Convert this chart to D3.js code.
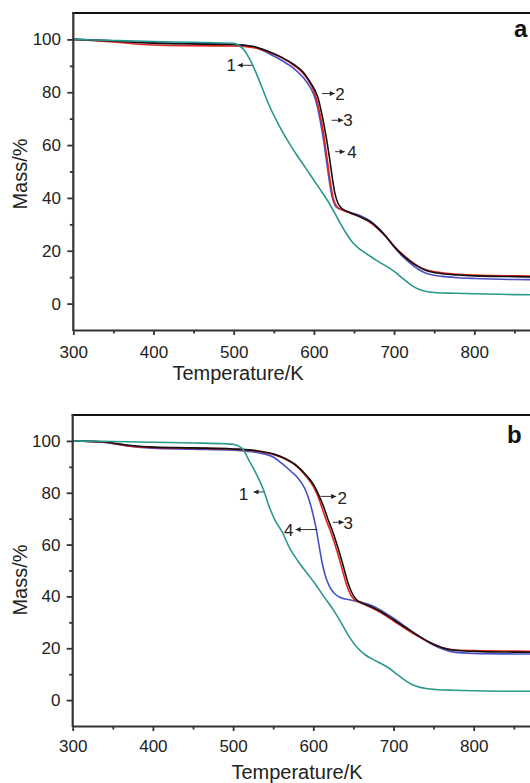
<!DOCTYPE html>
<html>
<head>
<meta charset="utf-8">
<script src="https://cdn.jsdelivr.net/npm/d3@7"></script>
<style>
  html, body { margin: 0; padding: 0; background: #fff; }
  svg { display: block; font-family: "Liberation Sans", Arial, sans-serif; }
</style>
</head>
<body>
<svg id="chart" width="530" height="783"></svg>
<script>
// ---------- data (Temperature/K, Mass/%) ----------
const xTicks = [300, 400, 500, 600, 700, 800];
const xMinorTicks = [350, 450, 550, 650, 750, 850];
const yTicks = [0, 20, 40, 60, 80, 100];
const yMinorTicks = [10, 30, 50, 70, 90];

// panel a
const a1 = [[300,100],[350,99.6],[400,99.2],[450,98.9],[500,98.5],[506,97.8],[513,96],[520,92.5],[527,88],[535,82],[545,74.5],[555,68.3],[565,62.8],[577,57],[590,51.2],[600,46.7],[610,42.2],[620,37.5],[630,32],[640,26.7],[648,23.2],[656,20.9],[666,18.8],[680,16],[690,14.2],[700,12.2],[710,9.7],[720,7.3],[730,5.5],[740,4.6],[750,4.2],[775,3.9],[800,3.7],[850,3.4],[900,3.3]];
const a2 = [[300,100],[350,99.4],[400,98.6],[450,98.3],[500,98.1],[525,97.3],[545,95.2],[560,93.2],[575,90.5],[587,87.5],[595,84],[600,81.5],[605,78],[609,73],[613,67],[617,60],[620,54],[623,47.5],[626,42],[630,38],[635,36],[645,34.5],[660,32.5],[670,31],[680,28.5],[690,25.3],[700,21.5],[710,18.5],[720,16],[730,14],[740,12.5],[760,11.3],[780,10.8],[800,10.5],[850,10.2],[900,10]];
const a3 = [[300,100],[350,99],[400,97.9],[450,97.6],[500,97.5],[525,96.9],[545,95],[560,93],[575,90.2],[587,87],[595,83.5],[600,80.5],[604,76.5],[608,71],[612,64.5],[615,58],[618,51.5],[621,45],[624,40],[628,37],[635,35.5],[645,34.3],[660,32.5],[670,30.8],[680,28.3],[690,25.3],[700,21.8],[710,18.8],[720,16.3],[730,14.2],[740,12.8],[760,11.7],[780,11.1],[800,10.8],[850,10.5],[900,10.4]];
const a4 = [[300,100],[350,99.5],[400,98.7],[450,98.4],[500,98.1],[525,97.2],[545,94.5],[560,92],[575,89],[587,85.5],[595,82],[600,79],[604,75],[608,69],[612,62],[615,55.5],[618,49],[621,43],[624,39],[628,36.5],[635,35.5],[645,34.5],[660,33],[670,31.3],[680,28.8],[690,25.5],[700,21.5],[710,18],[720,15.3],[730,13],[740,11.5],[760,10.3],[780,9.8],[800,9.5],[850,9.1],[900,9]];

// panel b
const b1 = [[300,100],[350,99.8],[400,99.5],[450,99.2],[490,98.9],[500,98.7],[507,98],[513,96.5],[519,93],[526,89],[538,81],[546,73.8],[553,69],[561,65],[571,58.3],[581,53.6],[592,49],[602,45],[613,40],[625,34.8],[635,29.7],[646,23.8],[655,20.2],[665,17.4],[675,15.6],[685,14],[695,12.2],[705,9.8],[715,7.5],[723,6],[732,5],[742,4.4],[752,4.1],[775,3.8],[800,3.6],[850,3.4],[900,3.4]];
const b2 = [[300,100],[340,99.6],[370,98.3],[400,97.6],[450,97.3],[500,96.9],[530,96.2],[550,95],[565,93.2],[580,90.3],[592,86.5],[600,83.3],[607,79],[613,74.5],[618,70],[623,66],[628,61.5],[633,56.5],[638,51],[643,45.5],[648,41.5],[653,39],[660,37.6],[670,36.3],[685,34],[700,31],[715,28],[730,25],[745,22.3],[760,20.3],[775,19.2],[800,18.8],[850,18.5],[900,18.4]];
const b3 = [[300,100],[340,99.5],[370,98.1],[400,97.5],[450,97.2],[500,96.8],[530,96],[550,94.8],[565,93],[580,90],[592,86],[600,82.5],[606,78.5],[611,74],[616,69.5],[621,65.5],[626,61],[631,56],[636,50.5],[641,45],[646,41],[651,38.8],[660,37.4],[670,36],[685,33.6],[700,30.6],[715,27.5],[730,24.7],[745,22.2],[760,20.3],[775,19.4],[800,19.1],[850,18.9],[900,18.8]];
const b4 = [[300,100],[340,99.4],[370,98],[400,97.2],[450,96.8],[500,96.4],[530,95.5],[550,93.8],[562,91],[572,88.3],[580,86],[586,83.5],[591,80.5],[595,77],[599,72.5],[603,67],[607,60],[611,53],[615,48],[620,44],[626,41.2],[633,39.7],[645,38.7],[660,37.7],[672,36.6],[685,34.5],[700,31.6],[715,28.3],[730,25],[745,22],[760,19.8],[775,18.5],[800,18],[850,17.8],[900,17.7]];

const seriesNames = ["1", "2", "3", "4"];
const seriesColors = {"1": "#29998c", "2": "#111111", "3": "#e3211f", "4": "#4a4fc4"};
const drawOrder = ["4", "3", "2", "1"];

// curve labels: text position, arrow from (x1) to head (x2), all in data units
const notesA = [
  {label: "1", tx: 497, ty: 90.2, x1: 523, x2: 505, y: 90.2},
  {label: "2", tx: 632.5, ty: 79.5, x1: 610, x2: 626, y: 79.5},
  {label: "3", tx: 642.5, ty: 69.4, x1: 622, x2: 636.5, y: 69.4},
  {label: "4", tx: 647.5, ty: 57.5, x1: 626.5, x2: 638.5, y: 57.5}
];
const notesB = [
  {label: "1", tx: 513, ty: 79.4, x1: 538, x2: 525.5, y: 80.3},
  {label: "2", tx: 636, ty: 78, x1: 609, x2: 628.5, y: 78.6},
  {label: "3", tx: 643.5, ty: 68.2, x1: 624.5, x2: 638, y: 68.6},
  {label: "4", tx: 569.5, ty: 65.8, x1: 605, x2: 578, y: 65.8}
];

// ---------- drawing ----------
const svg = d3.select("#chart");
const defs = svg.append("defs");
defs.append("marker")
  .attr("id", "head").attr("viewBox", "0 0 10 10")
  .attr("refX", 10).attr("refY", 5)
  .attr("markerUnits", "userSpaceOnUse")
  .attr("markerWidth", 6).attr("markerHeight", 5)
  .attr("orient", "auto")
  .append("path").attr("d", "M0,0 L10,5 L0,10 Z").attr("fill", "#222");

function panel(cfg) {
  const x = d3.scaleLinear([300, 900], [cfg.left, cfg.left + 481.2]);
  const y = d3.scaleLinear([-10, 110], [cfg.bottom, cfg.top]);
  const g = svg.append("g");

  const clipId = "clip" + cfg.id;
  defs.append("clipPath").attr("id", clipId)
    .append("rect").attr("x", cfg.left).attr("y", cfg.top)
    .attr("width", 530 - cfg.left).attr("height", cfg.bottom - cfg.top);

  // curves
  const line = d3.line().x(d => x(d[0])).y(d => y(d[1])).curve(d3.curveMonotoneX);
  const cg = g.append("g").attr("clip-path", `url(#${clipId})`);
  drawOrder.forEach(name => {
    cg.append("path").datum(cfg.data[name])
      .attr("d", line).attr("fill", "none")
      .attr("stroke", seriesColors[name]).attr("stroke-width", 1.6)
      .attr("stroke-linejoin", "round");
  });

  // top border
  g.append("line").attr("x1", cfg.left - 1).attr("x2", 530)
    .attr("y1", cfg.top).attr("y2", cfg.top)
    .attr("stroke", "#111").attr("stroke-width", 2.2);

  // minor ticks
  const yMinor = g.append("g").attr("transform", `translate(${cfg.left},0)`)
    .call(d3.axisLeft(y).tickValues(yMinorTicks).tickSize(3.5).tickFormat(""));
  const xMinor = g.append("g").attr("transform", `translate(0,${cfg.bottom})`)
    .call(d3.axisBottom(x).tickValues(xMinorTicks).tickSize(3.5).tickFormat(""));
  [yMinor, xMinor].forEach(a => a.select(".domain").remove());

  // major axes
  const yAx = g.append("g").attr("transform", `translate(${cfg.left},0)`)
    .call(d3.axisLeft(y).tickValues(yTicks).tickSize(6).tickPadding(6.3).tickSizeOuter(0));
  const xAx = g.append("g").attr("transform", `translate(0,${cfg.bottom})`)
    .call(d3.axisBottom(x).tickValues(xTicks).tickSize(5).tickPadding(cfg.xPad).tickSizeOuter(0));
  [yAx, xAx, yMinor, xMinor].forEach(a => {
    a.selectAll("line").attr("stroke", "#333").attr("stroke-width", 1.8);
    a.selectAll("text").attr("font-size", 17).attr("fill", "#222")
      .attr("font-family", "'Liberation Sans', Arial, sans-serif");
  });
  [yAx, xAx].forEach(a => a.select(".domain").attr("stroke", "#333").attr("stroke-width", 2.2));
  yAx.select(".domain").attr("d", `M0,${cfg.bottom + 1}V${cfg.top - 1}`);

  // axis titles
  g.append("text").attr("x", cfg.xTitleX).attr("y", cfg.xTitleY)
    .attr("text-anchor", "middle").attr("font-size", 20).attr("fill", "#222")
    .text("Temperature/K");
  g.append("text").attr("transform", `translate(27,${cfg.yTitleY}) rotate(-90)`)
    .attr("text-anchor", "middle").attr("font-size", 20).attr("fill", "#222")
    .text("Mass/%");

  // panel letter
  g.append("text").attr("x", cfg.letterX).attr("y", cfg.letterY)
    .attr("font-size", 24).attr("font-weight", "bold").attr("fill", "#111")
    .text(cfg.id);

  // curve annotations
  cfg.notes.forEach(n => {
    g.append("line")
      .attr("x1", x(n.x1)).attr("x2", x(n.x2))
      .attr("y1", y(n.y)).attr("y2", y(n.y))
      .attr("stroke", "#333").attr("stroke-width", 1)
      .attr("marker-end", "url(#head)");
    g.append("text").attr("x", x(n.tx)).attr("y", y(n.ty)).attr("dy", "0.36em")
      .attr("text-anchor", "middle").attr("font-size", 17).attr("fill", "#222")
      .text(n.label);
  });
}

panel({
  id: "a", left: 73.3, top: 13, bottom: 330, xPad: 11,
  data: {"1": a1, "2": a2, "3": a3, "4": a4},
  notes: notesA, xTitleX: 238, xTitleY: 380, yTitleY: 174,
  letterX: 514, letterY: 37
});
panel({
  id: "b", left: 72.7, top: 415, bottom: 726, xPad: 9,
  data: {"1": b1, "2": b2, "3": b3, "4": b4},
  notes: notesB, xTitleX: 297, xTitleY: 779, yTitleY: 580,
  letterX: 507, letterY: 443
});
</script>
</body>
</html>
